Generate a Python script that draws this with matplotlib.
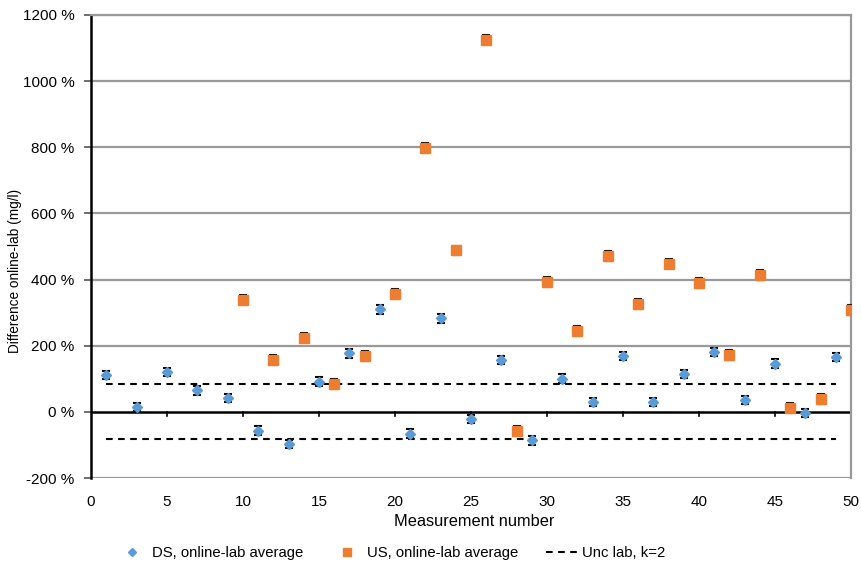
import matplotlib
matplotlib.use("Agg")
import matplotlib.pyplot as plt
from matplotlib.ticker import FuncFormatter, MultipleLocator
from matplotlib.lines import Line2D

plt.rcParams['font.family'] = ['Liberation Sans', 'DejaVu Sans']

ds_x = [1, 3, 5, 7, 9, 11, 13, 15, 17, 19, 21, 23, 25, 27, 29, 31, 33, 35, 37, 39, 41, 43, 45, 47, 49]
ds_y = [112, 15, 120, 65, 42, -57, -97, 91, 177, 310, -66, 283, -21, 157, -86, 100, 30, 169, 30, 115, 181, 36, 146, -3, 166]
ds_err = [13] * len(ds_x)

us_x = [10, 12, 14, 16, 18, 20, 22, 24, 26, 28, 30, 32, 34, 36, 38, 40, 42, 44, 46, 48, 50]
us_y = [339, 157, 224, 84, 169, 357, 799, 489, 1125, -57, 393, 245, 471, 326, 448, 390, 172, 414, 12, 39, 308]
us_err = [14] * len(us_x)

unc_x = [1, 49]
unc_val = 83

W, H = 862, 566
DASH = (3.2, 2.6)
fig = plt.figure(figsize=(W / 100, H / 100), dpi=100)
ax = fig.add_axes([91 / W, 88 / H, 760 / W, 463 / H])

for g in range(200, 1201, 200):
    ax.axhline(g, color='#999999', lw=1.6, zorder=0)
ax.axhline(-200, color='#999999', lw=1.6, zorder=0)

ax.errorbar(ds_x, ds_y, yerr=ds_err, fmt='none', ecolor='black', elinewidth=1.2,
            capsize=3, capthick=1.5, zorder=3)
ax.plot(ds_x, ds_y, 'D', ms=5, color='#5B9BD5', mec='#5B9BD5', zorder=4)
ax.errorbar(us_x, us_y, yerr=us_err, fmt='none', ecolor='black', elinewidth=1.2,
            capsize=3, capthick=1.5, zorder=3)
ax.plot(us_x, us_y, 's', ms=6.5, color='#ED7D31', mec='#ED7D31', zorder=4)
ax.plot(unc_x, [unc_val, unc_val], color='black', lw=1.5, dashes=DASH, zorder=2)
ax.plot(unc_x, [-unc_val, -unc_val], color='black', lw=1.5, dashes=DASH, zorder=2)

ax.set_xlim(0, 50)
ax.set_ylim(-200, 1200)
ax.yaxis.set_major_locator(MultipleLocator(200))
ax.xaxis.set_major_locator(MultipleLocator(5))
ax.yaxis.set_major_formatter(FuncFormatter(lambda v, p: f"{int(v)} %"))

for s in ['top', 'right']:
    ax.spines[s].set_color('#999999')
    ax.spines[s].set_linewidth(1.6)
ax.spines['left'].set_color('black')
ax.spines['left'].set_linewidth(1.8)
ax.spines['bottom'].set_visible(False)
ax.axhline(0, color='black', lw=1.8, zorder=1)
for x in range(5, 50, 5):
    ax.plot([x, x], [0, -12], color='black', lw=1.2, zorder=1, clip_on=False)

ax.tick_params(axis='x', length=0, labelsize=11, pad=12)
ax.tick_params(axis='y', length=5, width=1.2, color='#555555', labelsize=11, pad=7)

fig.text(474 / W, 1 - 522 / H, 'Measurement number', fontsize=11.8, ha='center', va='center')
fig.text(15 / W, 1 - 271 / H, 'Difference online-lab (mg/l)', fontsize=9.8, rotation=90,
         ha='center', va='center')

handles = [
    Line2D([], [], marker='D', ms=4, color='#5B9BD5', ls='none'),
    Line2D([], [], marker='s', ms=6, color='#ED7D31', ls='none'),
    Line2D([], [], color='black', lw=1.5, dashes=DASH),
]
labels = ['DS, online-lab average', 'US, online-lab average', 'Unc lab, k=2']
fig.legend(handles, labels, loc='center left', bbox_to_anchor=(116.5 / W, 1 - 553 / H), ncol=3,
           frameon=False, fontsize=10.7, handlelength=2.08, columnspacing=1.85,
           handletextpad=0.34, borderpad=0, borderaxespad=0)

fig.savefig('out.png', dpi=100)
